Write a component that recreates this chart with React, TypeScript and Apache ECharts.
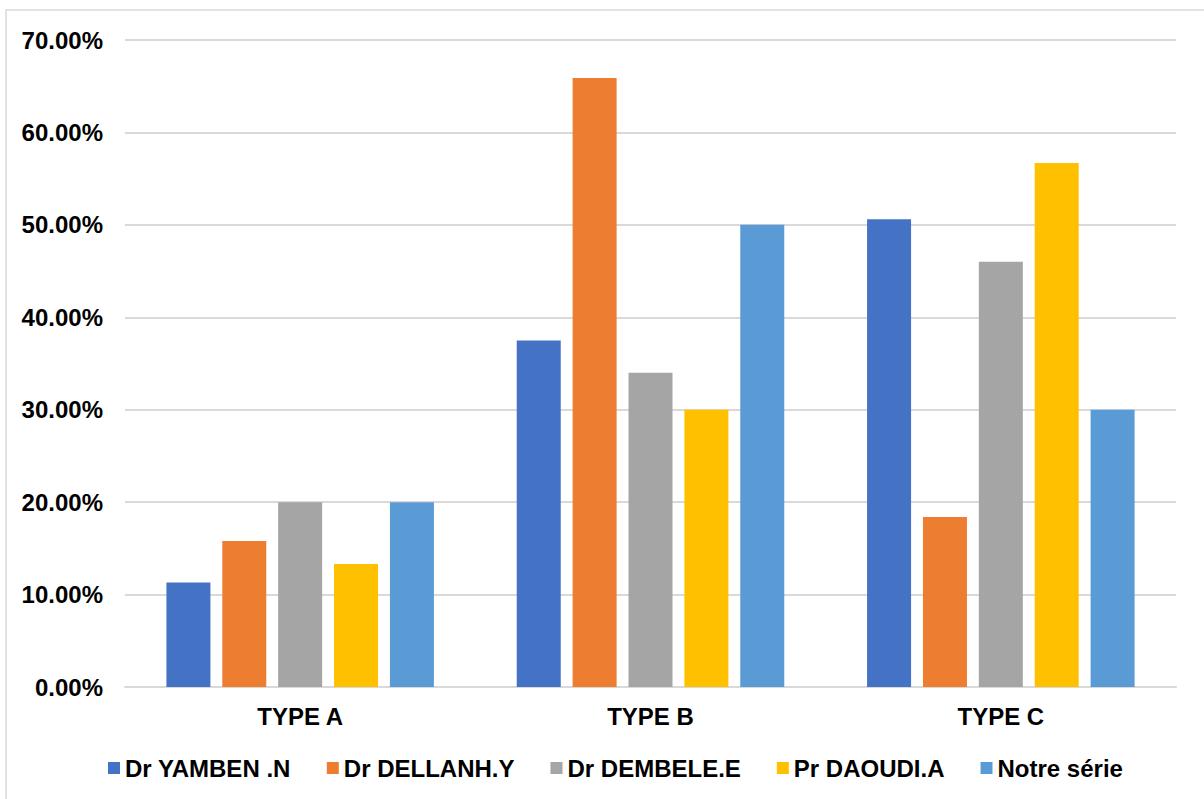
import React, { useEffect, useRef } from "react";
import * as echarts from "echarts";

const categories = ["TYPE A", "TYPE B", "TYPE C"];
const seriesNames = ["Dr YAMBEN .N", "Dr DELLANH.Y", "Dr DEMBELE.E", "Pr DAOUDI.A", "Notre série"];
const yamben = [11.3, 37.5, 50.6];
const dellanh = [15.8, 65.9, 18.4];
const dembele = [20.0, 34.0, 46.0];
const daoudi = [13.3, 30.0, 56.7];
const notre = [20.0, 50.0, 30.0];
const colors = ["#4472C4", "#ED7D31", "#A5A5A5", "#FFC000", "#5B9BD5"];

export default function App() {
  const ref = useRef<HTMLDivElement>(null);
  useEffect(() => {
    const chart = echarts.init(ref.current!, undefined, { renderer: "svg" });
    const values = [yamben, dellanh, dembele, daoudi, notre];
    chart.setOption({
      animation: false,
      textStyle: { fontFamily: "Liberation Sans, Arial, sans-serif" },
      graphic: [
        {
          type: "rect",
          shape: { x: 6, y: 10, width: 1220, height: 800 },
          style: { fill: "none", stroke: "#D9D9D9", lineWidth: 1.5 },
          silent: true,
        },
      ],
      grid: { left: 125, right: 28, top: 40, bottom: 112, containLabel: false },
      legend: {
        top: 751,
        left: 103,
        itemWidth: 12,
        itemHeight: 12,
        itemGap: 36,
        icon: "rect",
        textStyle: { fontSize: 24, fontWeight: "bold", color: "#000" },
        data: seriesNames,
      },
      xAxis: {
        type: "category",
        data: categories,
        axisLine: { show: true, lineStyle: { color: "#D9D9D9", width: 2 } },
        axisTick: { show: false },
        axisLabel: { fontSize: 24, fontWeight: "bold", color: "#000", margin: 17 },
      },
      yAxis: {
        type: "value",
        min: 0,
        max: 70,
        interval: 10,
        axisLine: { show: false },
        axisTick: { show: false },
        splitLine: { lineStyle: { color: "#D9D9D9", width: 2 } },
        axisLabel: {
          fontSize: 24,
          fontWeight: "bold",
          color: "#000",
          margin: 22,
          formatter: (v: number) => v.toFixed(2) + "%",
        },
      },
      series: seriesNames.map((name, i) => ({
        name,
        type: "bar",
        data: values[i],
        barWidth: 44,
        barGap: "27%",
        itemStyle: { color: colors[i] },
      })),
    });
    return () => chart.dispose();
  }, []);
  return (
    <div
      ref={ref}
      style={{ position: "absolute", left: 0, top: 0, width: 1204, height: 799, background: "#fff" }}
    />
  );
}
